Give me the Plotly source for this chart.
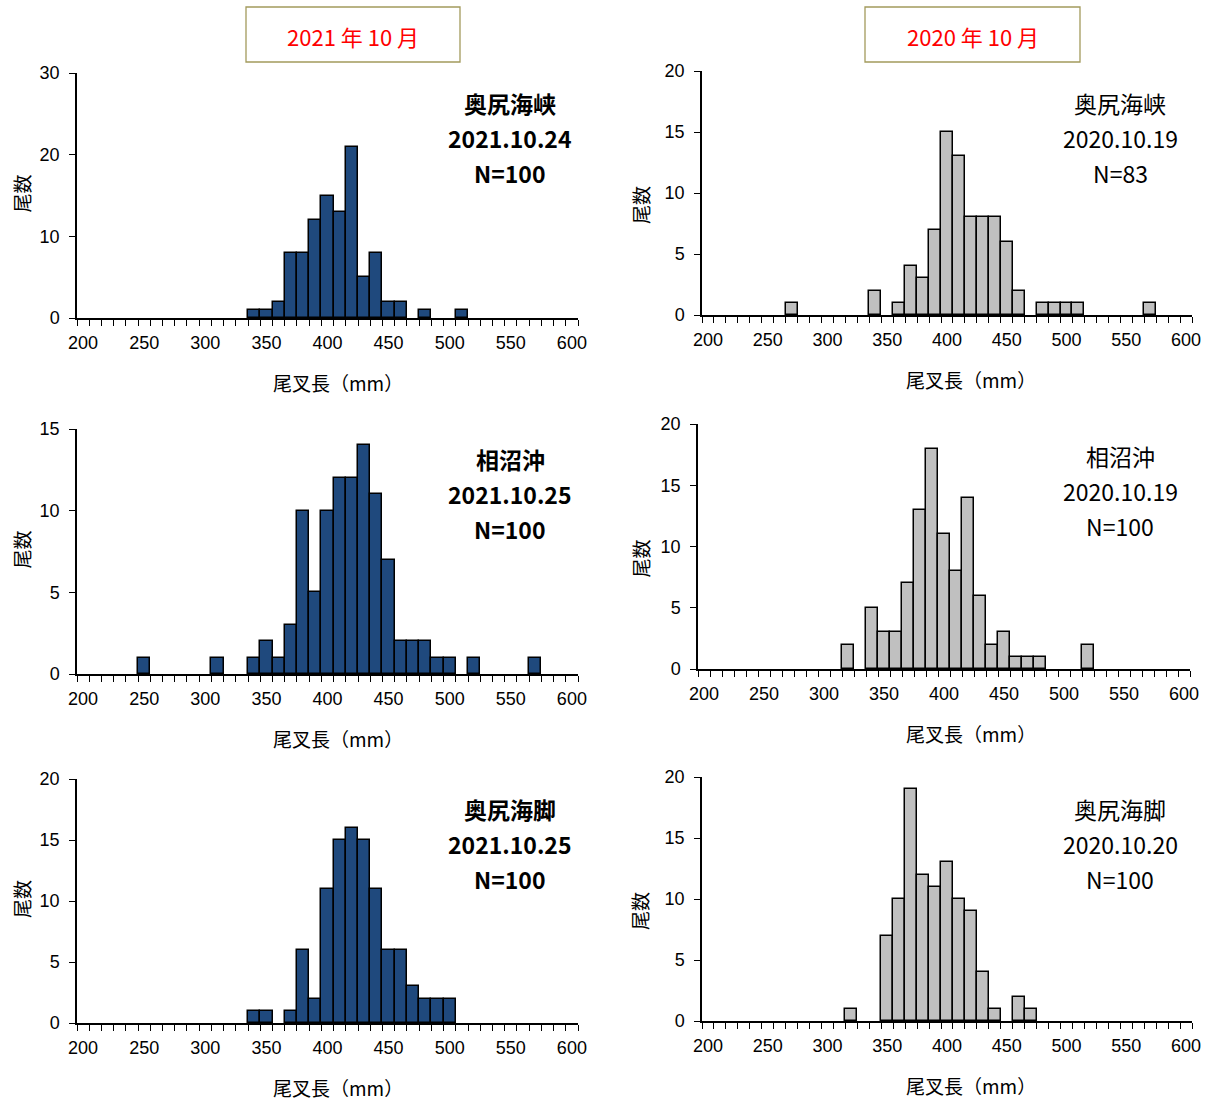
import plotly.graph_objects as go

# ---------------- data ----------------
# fork length classes (mm) shown on the x axis
tick_labels = [200, 250, 300, 350, 400, 450, 500, 550, 600]

# 2021-10 奥尻海峡
p1_len = [340, 350, 360, 370, 380, 390, 400, 410, 420, 430, 440, 450, 460, 480, 510]
p1_cnt = [1, 1, 2, 8, 8, 12, 15, 13, 21, 5, 8, 2, 2, 1, 1]
# 2020-10 奥尻海峡
p2_len = [270, 340, 360, 370, 380, 390, 400, 410, 420, 430, 440, 450, 460, 480, 490, 500, 510, 570]
p2_cnt = [1, 2, 1, 4, 3, 7, 15, 13, 8, 8, 8, 6, 2, 1, 1, 1, 1, 1]
# 2021-10 相沼沖
p3_len = [250, 310, 340, 350, 360, 370, 380, 390, 400, 410, 420, 430, 440, 450, 460, 470, 480, 490, 500, 520, 570]
p3_cnt = [1, 1, 1, 2, 1, 3, 10, 5, 10, 12, 12, 14, 11, 7, 2, 2, 2, 1, 1, 1, 1]
# 2020-10 相沼沖
p4_len = [320, 340, 350, 360, 370, 380, 390, 400, 410, 420, 430, 440, 450, 460, 470, 480, 520]
p4_cnt = [2, 5, 3, 3, 7, 13, 18, 11, 8, 14, 6, 2, 3, 1, 1, 1, 2]
# 2021-10 奥尻海脚
p5_len = [340, 350, 370, 380, 390, 400, 410, 420, 430, 440, 450, 460, 470, 480, 490, 500]
p5_cnt = [1, 1, 1, 6, 2, 11, 15, 16, 15, 11, 6, 6, 3, 2, 2, 2]
# 2020-10 奥尻海脚
p6_len = [320, 350, 360, 370, 380, 390, 400, 410, 420, 430, 440, 460, 470]
p6_cnt = [1, 7, 10, 19, 12, 11, 13, 10, 9, 4, 1, 2, 1]

headers = ["2021 年 10 月", "2020 年 10 月"]
p_site = ["奥尻海峡", "奥尻海峡", "相沼沖", "相沼沖", "奥尻海脚", "奥尻海脚"]
p_date = ["2021.10.24", "2020.10.19", "2021.10.25", "2020.10.19", "2021.10.25", "2020.10.20"]
p_n = ["N=100", "N=83", "N=100", "N=100", "N=100", "N=100"]
p_ymax = [30, 20, 15, 20, 20, 20]
p_ystep = [10, 5, 5, 5, 5, 5]
x_title = "尾叉長（mm）"
y_title = "尾数"

# ---------------- layout helpers ----------------
W, H = 1212, 1104
def fx(px):
    return px / W
def fy(py):
    return 1 - py / H

NAVY = "#1F497D"
GRAY = "#C0C0C0"
NUMFONT = "Liberation Sans, Arial, Noto Sans CJK JP"
JPFONT = "Noto Sans CJK JP"

# pixel boxes of each plot area: (left, right, top, bottom)
boxes = [
    (77, 578, 73, 318),
    (702, 1192, 71, 315),
    (77, 578, 429, 674),
    (698, 1190, 424, 669),
    (77, 578, 779, 1023),
    (702, 1192, 777, 1021),
]
lens = [p1_len, p2_len, p3_len, p4_len, p5_len, p6_len]
cnts = [p1_cnt, p2_cnt, p3_cnt, p4_cnt, p5_cnt, p6_cnt]

fig = go.Figure()
layout = dict(
    template="none",
    width=W, height=H, margin=dict(l=0, r=0, t=0, b=0, pad=0, autoexpand=False),
    paper_bgcolor="white", plot_bgcolor="white", showlegend=False,
    bargap=0,
)
annotations = []
shapes = []

for k in range(6):
    sfx = "" if k == 0 else str(k + 1)
    left, right, top, bottom = boxes[k]
    is_left = (k % 2 == 0)
    fig.add_trace(go.Bar(
        x=lens[k], y=cnts[k], width=10,
        marker=dict(color=NAVY if is_left else GRAY,
                    line=dict(color="black", width=1.5)),
        xaxis="x" + sfx, yaxis="y" + sfx, hoverinfo="x+y",
    ))
    layout["xaxis" + sfx] = dict(
        domain=[fx(left), fx(right)], anchor="y" + sfx,
        range=[195, 605], tickmode="array", tickvals=tick_labels,
        ticks="", showgrid=False, zeroline=False, automargin=False,
        showline=True, linecolor="black", linewidth=1.5,
        tickfont=dict(family=NUMFONT, size=18, color="black"),
        ticklabelstandoff=8,
        minor=dict(tickmode="linear", tick0=195, dtick=10, ticks="outside",
                   ticklen=6, tickwidth=1.3, tickcolor="black", showgrid=False),
        fixedrange=True,
    )
    ymax = p_ymax[k]
    layout["yaxis" + sfx] = dict(
        domain=[fy(bottom), fy(top)], anchor="x" + sfx,
        range=[0, ymax], tickmode="array",
        tickvals=list(range(0, ymax + 1, p_ystep[k])),
        ticks="outside", ticklen=6, tickwidth=1.3, tickcolor="black",
        showgrid=False, zeroline=False, automargin=False,
        showline=True, linecolor="black", linewidth=1.5,
        tickfont=dict(family=NUMFONT, size=18, color="black"),
        ticklabelstandoff=6,
        fixedrange=True,
    )
    # panel text (site / date / N)
    cx = 510 if is_left else 1120
    base = top + 30 if is_left else top + 32
    for j, txt in enumerate([p_site[k], p_date[k], p_n[k]]):
        annotations.append(dict(
            xref="paper", yref="paper", x=fx(cx), y=fy(base + j * 35),
            text=txt, showarrow=False, xanchor="center", yanchor="middle",
            font=dict(family=JPFONT, size=23, color="black",
                      weight="bold" if is_left else "normal"),
        ))
    # axis titles
    annotations.append(dict(
        xref="paper", yref="paper", x=fx(338 if is_left else 971),
        y=fy(bottom + 64), text=x_title, showarrow=False,
        xanchor="center", yanchor="middle",
        font=dict(family=JPFONT, size=19, color="black"),
    ))
    annotations.append(dict(
        xref="paper", yref="paper", x=fx(21 if is_left else 640),
        y=fy((top + bottom) / 2 - 2 if is_left else (top + bottom) / 2 + 12),
        text=y_title, showarrow=False, textangle=-90,
        xanchor="center", yanchor="middle",
        font=dict(family=JPFONT, size=19, color="black"),
    ))

# header boxes
for i, (x0, x1) in enumerate([(246, 460), (865, 1080)]):
    shapes.append(dict(type="rect", xref="paper", yref="paper",
                       x0=fx(x0), x1=fx(x1), y0=fy(62), y1=fy(7),
                       line=dict(color="#A39A5C", width=1.3),
                       fillcolor="white"))
    annotations.append(dict(
        xref="paper", yref="paper", x=fx((x0 + x1) / 2), y=fy(36),
        text=headers[i], showarrow=False, xanchor="center", yanchor="middle",
        font=dict(family=JPFONT, size=22, color="#FF0000"),
    ))

layout["annotations"] = annotations
layout["shapes"] = shapes
fig.update_layout(**layout)
fig.write_html(
    "out.html",
    config={"displayModeBar": False},
    post_script="document.body.style.margin='0';document.body.style.overflow='hidden';",
)
